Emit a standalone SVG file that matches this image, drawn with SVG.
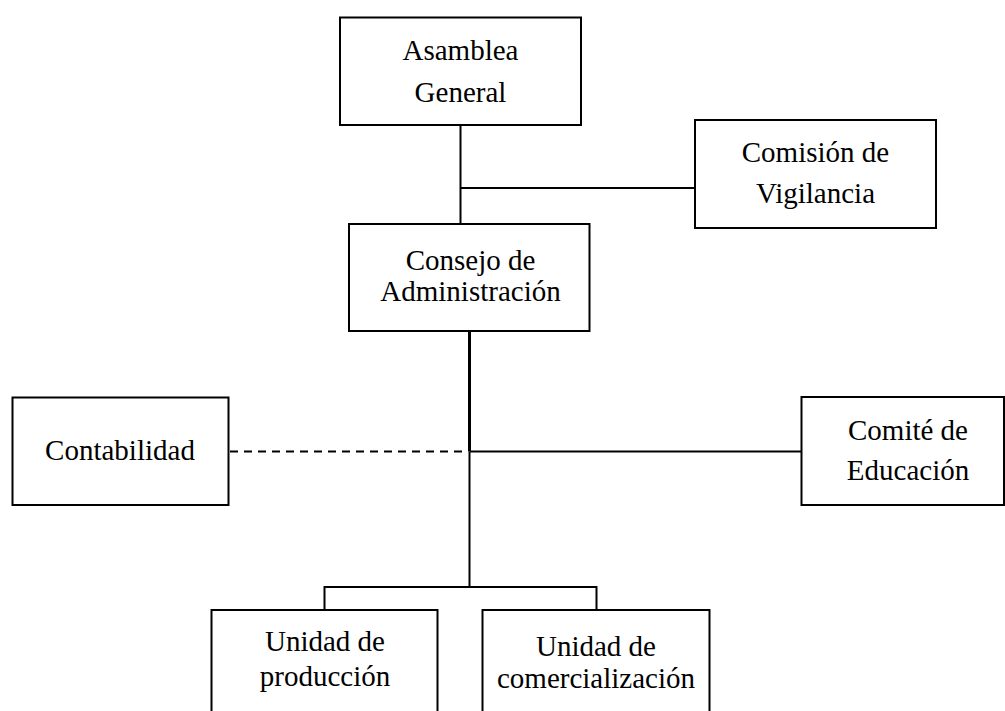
<svg xmlns="http://www.w3.org/2000/svg" width="1005" height="711" viewBox="0 0 1005 711">
  <style>
    .box { fill: #ffffff; stroke: #000000; stroke-width: 2; }
    .lbl { font-size: 29px; fill: #000000; text-anchor: middle; }
    .ln { fill: none; stroke: #000000; stroke-width: 2; }
    .thick { stroke-width: 3; }
    .dash { stroke-dasharray: 8 6; }
  </style>
  <rect width="1005" height="711" fill="#ffffff"/>
  <g id="connectors">
    <line class="ln" x1="460.5" y1="125" x2="460.5" y2="224"/>
    <line class="ln" x1="460.5" y1="188" x2="695" y2="188"/>
    <line class="ln thick" x1="469.5" y1="331" x2="469.5" y2="451.5"/>
    <line class="ln" x1="469.5" y1="451.5" x2="469.5" y2="587"/>
    <line class="ln dash" x1="230" y1="451.5" x2="468" y2="451.5"/>
    <line class="ln" x1="470" y1="451.5" x2="801.5" y2="451.5"/>
    <polyline class="ln" points="324.5,610 324.5,587 596.5,587 596.5,610"/>
  </g>
  <g font-family="'Liberation Serif', 'Times New Roman', 'DejaVu Serif', serif">
  <g id="asamblea">
    <rect class="box" x="340" y="17.5" width="241" height="107.5"/>
    <text class="lbl" x="460.5" y="60">Asamblea</text>
    <text class="lbl" x="460.5" y="102">General</text>
  </g>
  <g id="comision">
    <rect class="box" x="695" y="120" width="241" height="108"/>
    <text class="lbl" x="815.5" y="162">Comisión de</text>
    <text class="lbl" x="815.5" y="203">Vigilancia</text>
  </g>
  <g id="consejo">
    <rect class="box" x="349" y="224" width="240.5" height="107"/>
    <text class="lbl" x="470.5" y="270">Consejo de</text>
    <text class="lbl" x="470.5" y="301">Administración</text>
  </g>
  <g id="contabilidad">
    <rect class="box" x="12.5" y="397.5" width="216" height="107.5"/>
    <text class="lbl" x="120" y="460">Contabilidad</text>
  </g>
  <g id="comite">
    <rect class="box" x="801.5" y="397" width="202.5" height="108"/>
    <text class="lbl" x="908" y="440">Comité de</text>
    <text class="lbl" x="908" y="480">Educación</text>
  </g>
  <g id="produccion">
    <rect class="box" x="211.5" y="610" width="226" height="110"/>
    <text class="lbl" x="325" y="651">Unidad de</text>
    <text class="lbl" x="325" y="686">producción</text>
  </g>
  <g id="comercializacion">
    <rect class="box" x="482.5" y="610" width="227" height="110"/>
    <text class="lbl" x="596" y="656">Unidad de</text>
    <text class="lbl" x="596" y="688">comercialización</text>
  </g>
  </g>
</svg>
